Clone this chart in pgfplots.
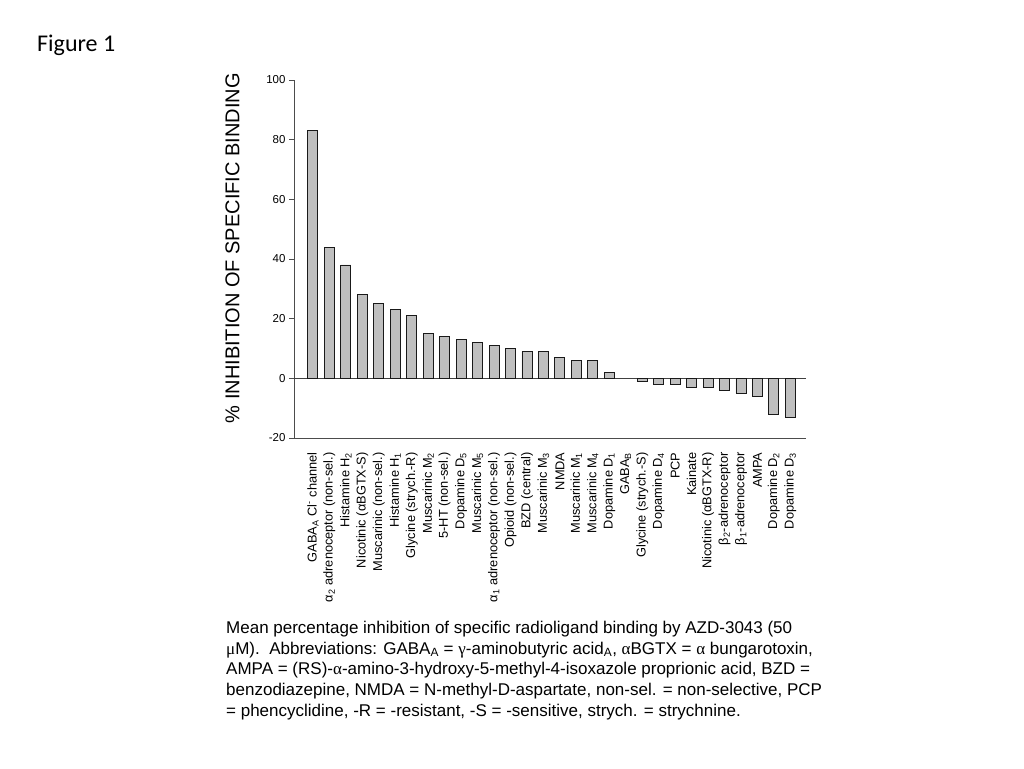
\documentclass[border=0pt]{standalone}
\usepackage{pgfplots}
\pgfplotsset{compat=1.18}
\usepackage{fontspec}
\setmainfont{Liberation Sans}
\newfontfamily\calibri{Carlito}
\newfontfamily\symb{Liberation Serif}
\begin{document}
\begin{tikzpicture}[x=1pt,y=1pt]
\path[use as bounding box] (0,0) rectangle (1024,768);
\node[anchor=north west, inner sep=0pt, font=\calibri\fontsize{24}{28}\selectfont] at (37,768-35) {Figure 1};
\begin{axis}[
  at={(294pt,330pt)}, anchor=south west,
  scale only axis, width=512pt, height=358pt,
  xmin=-1.15, xmax=29.95, ymin=-20, ymax=100,
  axis x line=bottom, axis y line=left,
  axis line style={-, black!70, line width=0.9pt},
  ytick={-20,0,20,40,60,80,100},
  tick align=outside, major tick length=5pt,
  ytick style={black!70, line width=0.9pt},
  xtick={0,...,29},
  xtick style={draw=none},
  /pgf/number format/assume math mode=true,
  yticklabel style={font=\fontsize{11.5}{12}\selectfont},
  xticklabel style={rotate=90, anchor=east, font=\fontsize{12.8}{13}\selectfont},
  xticklabel shift=6pt,
  xticklabels={
    {GABA\textsubscript{A} Cl\textsuperscript{-} channel},
    {α\textsubscript{2} adrenoceptor (non-sel.)},
    {Histamine H\textsubscript{2}},
    {Nicotinic (αBGTX-S)},
    {Muscarinic (non-sel.)},
    {Histamine H\textsubscript{1}},
    {Glycine (strych.-R)},
    {Muscarinic M\textsubscript{2}},
    {5-HT (non-sel.)},
    {Dopamine D\textsubscript{5}},
    {Muscarinic M\textsubscript{5}},
    {α\textsubscript{1} adrenoceptor (non-sel.)},
    {Opioid (non-sel.)},
    {BZD (central)},
    {Muscarinic M\textsubscript{3}},
    {NMDA},
    {Muscarinic M\textsubscript{1}},
    {Muscarinic M\textsubscript{4}},
    {Dopamine D\textsubscript{1}},
    {GABA\textsubscript{B}},
    {Glycine (strych.-S)},
    {Dopamine D\textsubscript{4}},
    {PCP},
    {Kainate},
    {Nicotinic (αBGTX-R)},
    {β\textsubscript{2}-adrenoceptor},
    {β\textsubscript{1}-adrenoceptor},
    {AMPA},
    {Dopamine D\textsubscript{2}},
    {Dopamine D\textsubscript{3}}},
  ylabel={\% INHIBITION OF SPECIFIC BINDING},
  ylabel style={font=\fontsize{20}{21}\selectfont, at={(rel axis cs:0,0.53)}, anchor=south, yshift=51pt},
  extra y ticks={0}, extra y tick labels={},
  extra y tick style={grid=major, major grid style={black!75, line width=1.1pt}},
  clip=false,
]
\addplot[ybar, bar width=10pt, fill=black!25, draw=black!90, line width=0.9pt] coordinates {
  (0,83) (1,44) (2,38) (3,28) (4,25) (5,23) (6,21) (7,15) (8,14) (9,13)
  (10,12) (11,11) (12,10) (13,9) (14,9) (15,7) (16,6) (17,6) (18,2)
  (20,-1) (21,-2) (22,-2) (23,-3) (24,-3) (25,-4) (26,-5) (27,-6) (28,-12) (29,-13)
};
\end{axis}
\node[anchor=north west, inner sep=0pt, align=left, font=\fontsize{17}{20.7}\selectfont] at (226,768-621) {%
Mean percentage inhibition of specific radioligand binding by AZD-3043 (50\\
{\symb μ}M).\ \ Abbreviations: GABA\textsubscript{A} = {\symb γ}-aminobutyric acid\textsubscript{A}, {\symb α}BGTX = {\symb α} bungarotoxin,\\
AMPA = (RS)-{\symb α}-amino-3-hydroxy-5-methyl-4-isoxazole proprionic acid, BZD =\\
benzodiazepine, NMDA = N-methyl-D-aspartate, non-sel. = non-selective, PCP\\
= phencyclidine, -R = -resistant, -S = -sensitive, strych. = strychnine.};
\end{tikzpicture}
\end{document}
